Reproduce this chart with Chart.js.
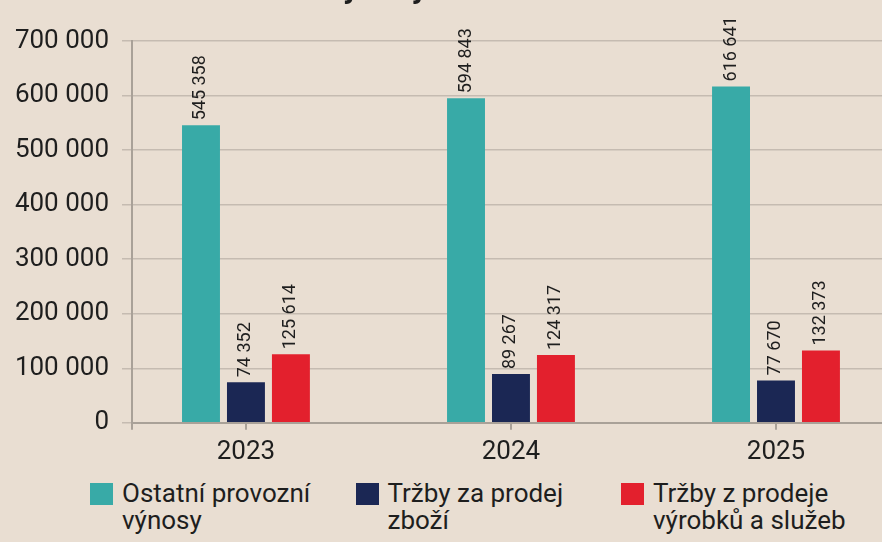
<!DOCTYPE html>
<html><head><meta charset="utf-8">
<script src="https://cdn.jsdelivr.net/npm/chart.js@4.4.0/dist/chart.umd.min.js"></script>
<style>
html,body{margin:0;padding:0;background:#E9DED2;width:882px;height:542px;overflow:hidden;font-family:Roboto,sans-serif;}
#wrap{position:relative;width:882px;height:542px;}
#c{position:absolute;left:0;top:0;}
#legend{position:absolute;left:90px;top:483px;display:flex;}
.item{width:265.5px;display:flex;align-items:flex-start;}
.box{width:23px;height:22px;flex:none;margin-right:9px;}
.txt{width:200px;font-size:26px;line-height:27px;color:#1e1e1e;margin-top:-3px;}
</style></head><body>
<div id="wrap"><canvas id="c" width="882" height="478"></canvas><div id="legend"></div></div>
<script>
const titleText = 'Provozní výnosy';
const years = [2023, 2024, 2025];
const seriesNames = ['Ostatní provozní výnosy', 'Tržby za prodej zboží', 'Tržby z prodeje výrobků a služeb'];
const ostatniVynosy = [545358, 594843, 616641];
const trzbyZbozi = [74352, 89267, 77670];
const trzbyVyrobky = [125614, 124317, 132373];
const yTicks = [0, 100000, 200000, 300000, 400000, 500000, 600000, 700000];
const colors = ['#38AAA7', '#1B2754', '#E3202D'];

const axisColor = '#A9A198';
const gridColor = '#C5BBB1';
const textColor = '#1e1e1e';
const fmt = v => String(v).replace(/\B(?=(\d{3})+(?!\d))/g, ' ');

const seriesValues = [ostatniVynosy, trzbyZbozi, trzbyVyrobky];
const datasets = seriesValues.map((vals, i) => ({
  label: seriesNames[i],
  data: vals.map((v, j) => ({x: years[j], y: v})),
  backgroundColor: colors[i],
  borderWidth: 0,
  categoryPercentage: 0.509,
  barPercentage: 0.844
}));

const labelPlugin = {
  id: 'valLabels',
  afterDatasetsDraw(chart) {
    const ctx = chart.ctx;
    chart.data.datasets.forEach((ds, i) => {
      chart.getDatasetMeta(i).data.forEach((el, j) => {
        ctx.save();
        ctx.translate(el.x, el.y - 5);
        ctx.rotate(-Math.PI / 2);
        ctx.font = '18px Roboto';
        ctx.fillStyle = textColor;
        ctx.textAlign = 'left';
        ctx.textBaseline = 'middle';
        ctx.fillText(fmt(ds.data[j].y), 0, 0);
        ctx.restore();
      });
    });
  },
  afterDraw(chart) {
    const ctx = chart.ctx, a = chart.chartArea;
    ctx.save();
    ctx.strokeStyle = axisColor; ctx.lineWidth = 2;
    ctx.beginPath(); ctx.moveTo(a.left, a.bottom); ctx.lineTo(a.left, a.bottom + 7); ctx.stroke();
    ctx.font = 'bold 32px Roboto';
    ctx.fillStyle = textColor;
    ctx.textBaseline = 'alphabetic';
    const pre = ctx.measureText('Provozní v').width;
    ctx.fillText(titleText, 343 - pre, -2);
    ctx.restore();
  }
};

new Chart(document.getElementById('c'), {
  type: 'bar',
  data: {datasets},
  options: {
    responsive: false,
    animation: false,
    devicePixelRatio: 1,
    layout: {padding: {top: 41, right: 0, bottom: 3, left: 0}},
    plugins: {legend: {display: false}, tooltip: {enabled: false}, title: {display: false}},
    scales: {
      x: {
        type: 'linear',
        offset: false,
        min: 2022.57, max: 2025.4,
        afterBuildTicks: s => { s.ticks = years.map(v => ({value: v})); },
        ticks: {callback: v => String(v), font: {family: 'Roboto', size: 26}, color: textColor, padding: 7, autoSkip: false, maxRotation: 0},
        grid: {offset: false, drawOnChartArea: false, drawTicks: true, tickLength: 7, color: axisColor, lineWidth: 2},
        border: {display: true, color: axisColor, width: 2}
      },
      y: {
        min: 0, max: 700000,
        afterBuildTicks: s => { s.ticks = yTicks.map(v => ({value: v})); },
        afterFit: s => { s.width = 132; },
        ticks: {callback: v => fmt(v), font: {family: 'Roboto', size: 26}, color: textColor, padding: 13},
        grid: {color: gridColor, lineWidth: 1.5, tickLength: 10, drawTicks: true},
        border: {display: true, color: axisColor, width: 2}
      }
    }
  },
  plugins: [labelPlugin]
});

const leg = document.getElementById('legend');
seriesNames.forEach((n, i) => {
  const it = document.createElement('div'); it.className = 'item';
  const b = document.createElement('div'); b.className = 'box'; b.style.background = colors[i];
  const t = document.createElement('div'); t.className = 'txt'; t.textContent = n;
  it.appendChild(b); it.appendChild(t); leg.appendChild(it);
});
</script>
</body></html>
